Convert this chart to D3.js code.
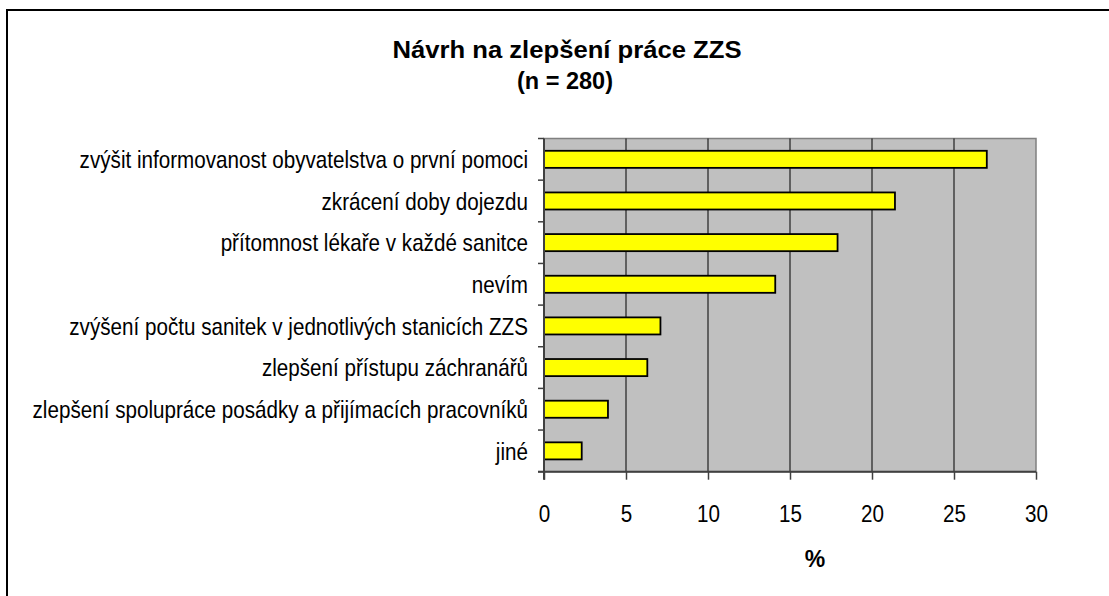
<!DOCTYPE html>
<html>
<head>
<meta charset="utf-8">
<script src="https://cdn.jsdelivr.net/npm/d3@7"></script>
<style>
  html, body { margin: 0; padding: 0; background: #fff; }
  svg { display: block; font-family: "Liberation Sans", Arial, sans-serif; }
</style>
</head>
<body>
<svg id="chart" width="1109" height="596"></svg>
<script>
const categories = [
  "zvýšit informovanost obyvatelstva o první pomoci",
  "zkrácení doby dojezdu",
  "přítomnost lékaře v každé sanitce",
  "nevím",
  "zvýšení počtu sanitek v jednotlivých stanicích ZZS",
  "zlepšení přístupu záchranářů",
  "zlepšení spolupráce posádky a přijímacích pracovníků",
  "jiné"
];
const values = [27.0, 21.4, 17.9, 14.1, 7.1, 6.3, 3.9, 2.3];
const xTicks = [0, 5, 10, 15, 20, 25, 30];
const titleLines = ["Návrh na zlepšení práce ZZS", "(n = 280)"];
const xAxisTitle = "%";

const svg = d3.select("#chart");
const pLeft = 544, pRight = 1036, pTop = 138.5, pBottom = 471.7;
const condense = 0.86; // horizontal squeeze of the label font

const x = d3.scaleLinear().domain([0, 30]).range([pLeft, pRight]);
const y = d3.scaleBand().domain(categories).range([pTop, pBottom])
  .paddingInner(0.59).paddingOuter(0.295);

// outer frame (top and left edges visible)
svg.append("path")
  .attr("d", `M7,596 L7,10 L1109,10`)
  .attr("fill", "none").attr("stroke", "#000").attr("stroke-width", 2);

// title
svg.append("text").attr("x", 567).attr("y", 57.5).attr("text-anchor", "middle")
  .attr("font-weight", "bold").attr("font-size", 24)
  .attr("textLength", 349).attr("lengthAdjust", "spacingAndGlyphs")
  .text(titleLines[0]);
svg.append("text").attr("x", 565).attr("y", 88.5).attr("text-anchor", "middle")
  .attr("font-weight", "bold").attr("font-size", 24)
  .attr("textLength", 96).attr("lengthAdjust", "spacingAndGlyphs")
  .text(titleLines[1]);

// plot background
svg.append("rect").attr("x", pLeft).attr("y", pTop)
  .attr("width", pRight - pLeft).attr("height", pBottom - pTop)
  .attr("fill", "#C0C0C0").attr("stroke", "#808080").attr("stroke-width", 1.5);

// gridlines
svg.append("g").selectAll("line").data(xTicks.filter(d => d > 0 && d < 30)).join("line")
  .attr("x1", d => x(d)).attr("x2", d => x(d))
  .attr("y1", pTop).attr("y2", pBottom)
  .attr("stroke", "#000").attr("stroke-width", 1);

// bars
svg.append("g").selectAll("rect").data(categories).join("rect")
  .attr("x", x(0))
  .attr("y", d => y(d))
  .attr("width", (d, i) => x(values[i]) - x(0))
  .attr("height", y.bandwidth())
  .attr("fill", "#FFFF00").attr("stroke", "#000").attr("stroke-width", 1.8);

// x axis
const xAxis = d3.axisBottom(x).tickValues(xTicks).tickSize(8).tickFormat("");
const gx = svg.append("g").attr("transform", `translate(0,${pBottom})`).call(xAxis);
gx.select(".domain").attr("stroke", "#404040").attr("stroke-width", 2)
  .attr("d", `M${pLeft - 6},0H${pRight}`);
gx.selectAll(".tick line").attr("stroke", "#404040").attr("stroke-width", 1.5);
gx.selectAll(".tick").append("text")
  .attr("transform", `translate(0,${521.5 - pBottom}) scale(${condense},1)`)
  .attr("text-anchor", "middle")
  .attr("font-size", 24).attr("fill", "#000")
  .attr("font-family", "Liberation Sans, Arial, sans-serif")
  .text(d => d);

// y axis line and ticks at band boundaries
const step = y.step();
const boundaries = d3.range(categories.length + 1).map(i => pTop + i * step);
svg.append("line").attr("x1", pLeft).attr("x2", pLeft).attr("y1", pTop).attr("y2", pBottom + 8)
  .attr("stroke", "#404040").attr("stroke-width", 2);
svg.append("g").selectAll("line").data(boundaries).join("line")
  .attr("x1", pLeft - 6).attr("x2", pLeft)
  .attr("y1", d => d).attr("y2", d => d)
  .attr("stroke", "#404040").attr("stroke-width", 1.5);

// category labels
svg.append("g").selectAll("text").data(categories).join("text")
  .attr("transform", d => `translate(528,${y(d) + y.bandwidth() / 2}) scale(${condense},1)`)
  .attr("dy", "0.36em")
  .attr("text-anchor", "end")
  .attr("font-size", 24)
  .text(d => d);

// x axis title
svg.append("text").attr("x", 815).attr("y", 567).attr("text-anchor", "middle")
  .attr("font-weight", "bold").attr("font-size", 23).text(xAxisTitle);
</script>
</body>
</html>
